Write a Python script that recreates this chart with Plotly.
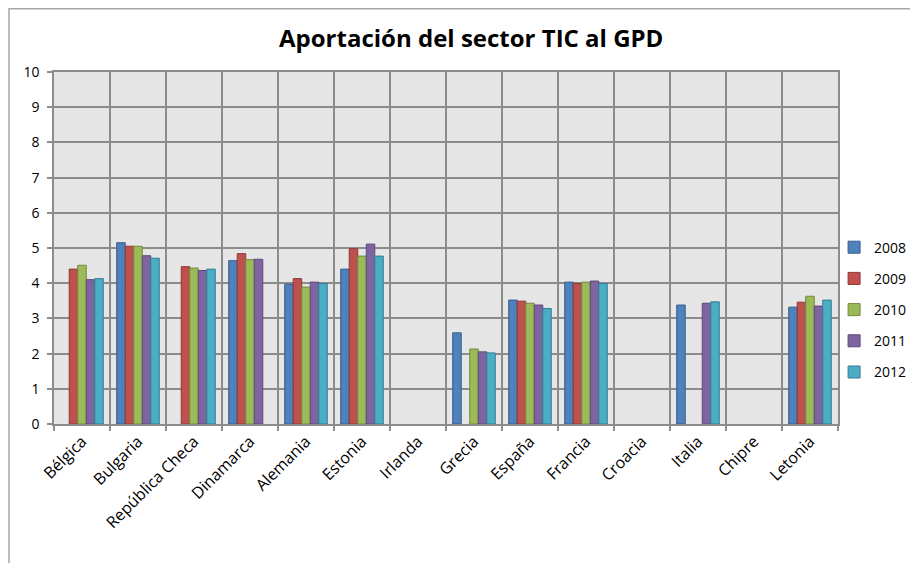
import plotly.graph_objects as go

# datos (None = sin dato)
paises = ["Bélgica", "Bulgaria", "República Checa", "Dinamarca", "Alemania", "Estonia",
          "Irlanda", "Grecia", "España", "Francia", "Croacia", "Italia", "Chipre", "Letonia"]
v2008 = [None, 5.15, None, 4.64, 3.97, 4.40, None, 2.59, 3.52, 4.03, None, 3.38, None, 3.32]
v2009 = [4.40, 5.05, 4.47, 4.84, 4.13, 4.98, None, None, 3.49, 3.99, None, None, None, 3.46]
v2010 = [4.51, 5.05, 4.43, 4.67, 3.89, 4.77, None, 2.13, 3.43, 4.03, None, None, None, 3.63]
v2011 = [4.10, 4.78, 4.36, 4.68, 4.03, 5.11, None, 2.05, 3.38, 4.06, None, 3.43, None, 3.35]
v2012 = [4.13, 4.71, 4.40, None, 3.99, 4.77, None, 2.02, 3.28, 3.99, None, 3.47, None, 3.52]

anios = ["2008", "2009", "2010", "2011", "2012"]
series = [v2008, v2009, v2010, v2011, v2012]
colores = ["#4F81BD", "#C0504D", "#9BBB59", "#8064A2", "#4BACC6"]
bordes = ["#385D8A", "#8C3836", "#71893F", "#5C4776", "#357D91"]

fig = go.Figure()
for anio, vals, col, borde in zip(anios, series, colores, bordes):
    fig.add_trace(go.Bar(
        x=paises, y=vals, name=anio, legendgroup=anio,
        marker=dict(color=col, line=dict(color=borde, width=1)),
    ))

# la pagina tiene 8px de margen, por eso 910x555
fig.update_layout(
    width=910, height=555,
    paper_bgcolor="white",
    plot_bgcolor="#E6E6E6",
    margin=dict(l=46, r=80, t=64, b=139, autoexpand=False),
    barmode="group",
    bargap=0.24,
    bargroupgap=0,
    font=dict(family="Open Sans", size=12, color="#000000"),
    title=dict(text="<b>Aportación del sector TIC al GPD</b>",
               x=0.509, xanchor="center", y=0.944, yanchor="middle",
               font=dict(family="Open Sans", size=24, color="#000000")),
    legend=dict(x=0.995, xanchor="left", y=0.325, yanchor="middle",
                tracegroupgap=10, font=dict(size=14), itemwidth=30,
                bgcolor="rgba(0,0,0,0)"),
    showlegend=True,
)

fig.update_xaxes(
    tickson="boundaries", showgrid=True, gridcolor="#8C8C8C", gridwidth=1.5,
    ticks="outside", ticklen=5, tickcolor="#8C8C8C", tickwidth=1.5,
    showline=True, linecolor="#8C8C8C", linewidth=1.5, mirror=True,
    tickangle=-45, tickfont=dict(size=16), automargin=False,
)
fig.update_yaxes(
    range=[0, 10], dtick=1, showgrid=True, gridcolor="#8C8C8C", gridwidth=1.5,
    ticks="outside", ticklen=5, tickcolor="#8C8C8C", tickwidth=1.5,
    showline=True, linecolor="#8C8C8C", linewidth=1.5, mirror=True,
    zeroline=False, tickfont=dict(size=14), ticklabelstandoff=5, automargin=False,
)

# marco exterior del grafico
fig.add_shape(type="path", xref="paper", yref="paper",
              path="M -0.0574,-0.45 L -0.0574,1.18 L 1.2,1.18",
              line=dict(color="#A6A6A6", width=1.5))

fig.write_html("out.html")
